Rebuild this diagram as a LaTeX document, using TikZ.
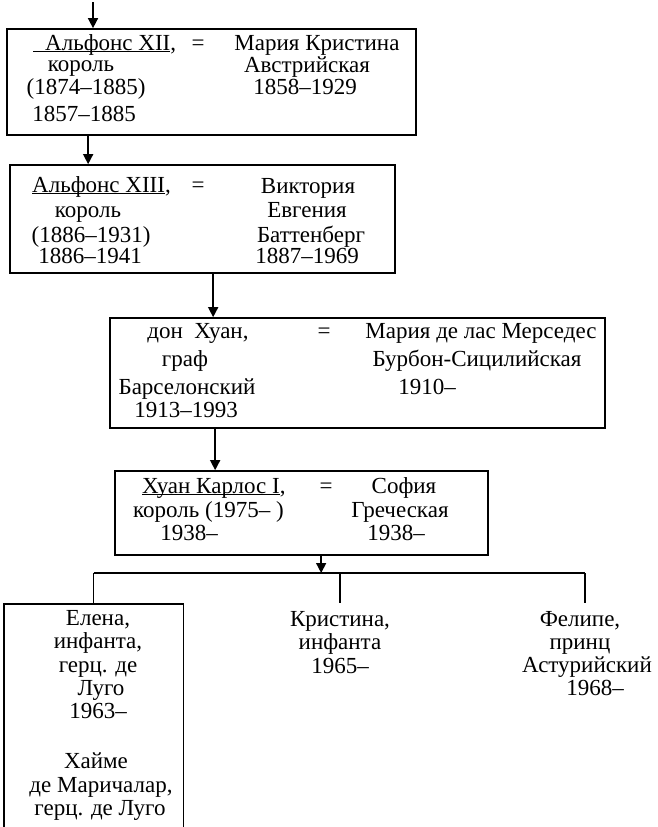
\documentclass[tikz,border=0pt]{standalone}
\usepackage{fontspec}
\setmainfont{Liberation Serif}
\usetikzlibrary{arrows.meta}
\newcommand{\ulin}[1]{\underline{\smash{#1}}}
\begin{document}
\begin{tikzpicture}[x=1pt,y=-1pt,
  boxst/.style={draw, line width=1.7pt, inner sep=0pt},
  conn/.style={line width=1.5pt},
  arr/.style={line width=1.5pt, -{Triangle[length=10pt,width=10pt]}},
  txt/.style={anchor=base, inner sep=0pt, font=\fontsize{23}{24}\selectfont},
  txtw/.style={txt, anchor=base west}]
\useasboundingbox (0,0) rectangle (657,827);
% boxes
\node[boxst, minimum width=409pt, minimum height=106pt] (box1) at (211.5,82) {};
\node[boxst, minimum width=385pt, minimum height=108pt] (box2) at (202.5,219) {};
\node[boxst, minimum width=495pt, minimum height=110pt] (box3) at (357.5,373) {};
\node[boxst, minimum width=373pt, minimum height=84pt] (box4) at (301.5,513) {};
\node[inner sep=0pt, minimum width=179pt, minimum height=223pt, anchor=north west] (elenabox) at (4,604) {};
\draw[line width=1.7pt] (elenabox.south west) -- (elenabox.north west) -- (elenabox.north east) -- (elenabox.south east);
% box 1 text
\node[txtw] (t11) at (33,50) {\ulin{\hspace{12pt}Альфонс XII},};
\node[txt] (t12) at (81,71) {король};
\node[txt] (t13) at (86,94) {(1874–1885)};
\node[txt] (t14) at (84,121) {1857–1885};
\node[txt] (t1eq) at (198,50) {=};
\node[txt] (t15) at (317,50) {Мария Кристина};
\node[txt] (t16) at (307,72) {Австрийская};
\node[txt] (t17) at (305,94) {1858–1929};
% box 2 text
\node[txtw] (t21) at (32,192) {\ulin{Альфонс XIII},};
\node[txt] (t22) at (88,217) {король};
\node[txt] (t23) at (91,242) {(1886–1931)};
\node[txt] (t24) at (90,263) {1886–1941};
\node[txt] (t2eq) at (198,192) {=};
\node[txt] (t25) at (308,193) {Виктория};
\node[txt] (t26) at (307,217) {Евгения};
\node[txt] (t27) at (311,242) {Баттенберг};
\node[txt] (t28) at (307,263) {1887–1969};
% box 3 text
\node[txt] (t31) at (198,338) {дон\ \ Хуан,};
\node[txt] (t32) at (185,366) {граф};
\node[txt] (t33) at (187,394) {Барселонский};
\node[txt] (t34) at (186,417) {1913–1993};
\node[txt] (t3eq) at (324,338) {=};
\node[txt] (t35) at (481,338) {Мария де лас Мерседес};
\node[txt] (t36) at (477,366) {Бурбон-Сицилийская};
\node[txt] (t37) at (427,394) {1910–};
% box 4 text
\node[txtw] (t41) at (142,493) {\ulin{Хуан Карлос I},};
\node[txtw] (t42) at (133,517) {король (1975–\ )};
\node[txt] (t43) at (189,540) {1938–};
\node[txt] (t4eq) at (326,493) {=};
\node[txt] (t45) at (404,493) {София};
\node[txt] (t46) at (400,517) {Греческая};
\node[txt] (t47) at (396,540) {1938–};
% Elena
\node[txt] (e1) at (98,625) {Елена,};
\node[txt] (e2) at (98,648) {инфанта,};
\node[txt] (e3) at (98,672) {герц. де};
\node[txt] (e4) at (101,695) {Луго};
\node[txt] (e5) at (98,718) {1963–};
\node[txt] (e6) at (96,768) {Хайме};
\node[txt] (e7) at (101,792) {де Маричалар,};
\node[txt] (e8) at (100,815) {герц. де Луго};
% Kristina
\node[txt] (k1) at (340,626) {Кристина,};
\node[txt] (k2) at (340,649) {инфанта};
\node[txt] (k3) at (340,673) {1965–};
% Felipe
\node[txt] (f1) at (580,626) {Фелипе,};
\node[txt] (f2) at (580,649) {принц};
\node[txt] (f3) at (587,672) {Астурийский};
\node[txt] (f4) at (595,695) {1968–};
% connectors
\coordinate (top) at (93,2);
\coordinate (busY) at (0,573);
\coordinate (kristop) at (340,603);
\coordinate (feltop) at (585,603);
\draw[arr] (top) -- (top |- box1.north);
\draw[arr] ([xshift=82pt]box1.south west) -- ([xshift=82pt]box1.south west |- box2.north);
\draw[arr] ([xshift=204pt]box2.south west) -- ([xshift=204pt]box2.south west |- box3.north);
\draw[arr] ([xshift=106pt]box3.south west) -- ([xshift=106pt]box3.south west |- box4.north);
\draw[arr] ([xshift=207pt]box4.south west) -- ([xshift=207pt]box4.south west |- busY);
\draw[conn] (elenabox.north |- busY) -- (feltop |- busY);
\draw[conn] (elenabox.north |- busY) -- (elenabox.north);
\draw[conn] (kristop |- busY) -- (kristop);
\draw[conn] (feltop |- busY) -- (feltop);
\end{tikzpicture}
\end{document}
